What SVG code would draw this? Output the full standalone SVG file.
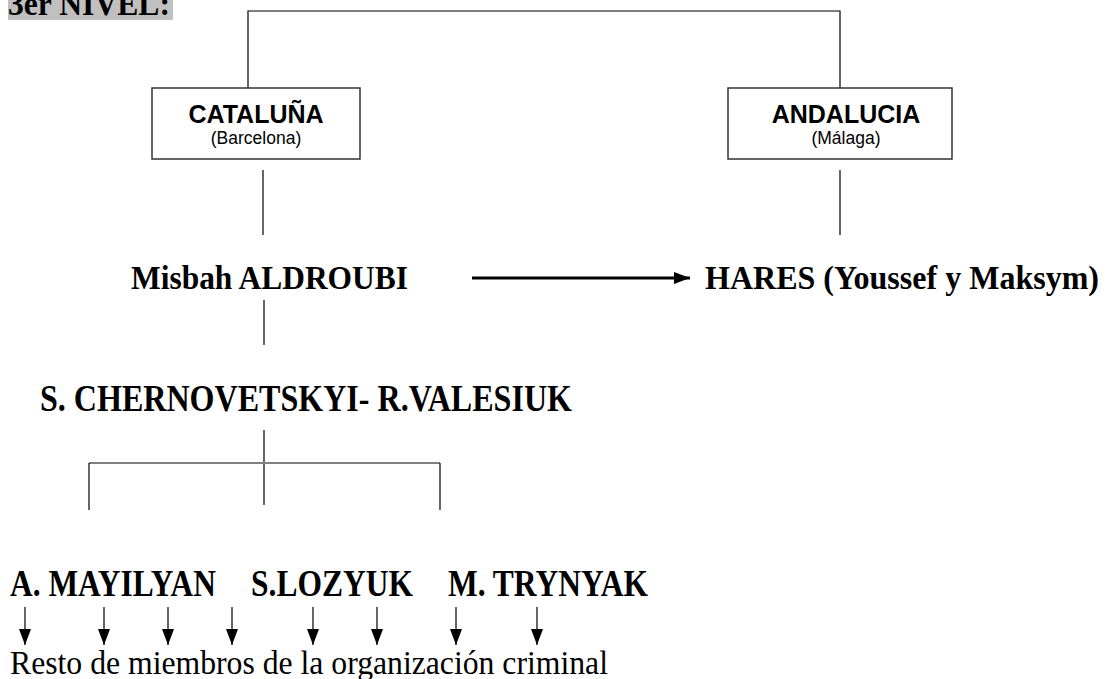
<svg xmlns="http://www.w3.org/2000/svg" width="1108" height="679" viewBox="0 0 1108 679">
<style>
.bg{fill:#ffffff}
.box{fill:#ffffff;stroke:#333333;stroke-width:1.5}
.ln{stroke:#000000;stroke-width:1.2;fill:none}
.gl{stroke:#808080;stroke-width:2;fill:none}
.sans{font-family:"Liberation Sans",Arial,sans-serif;fill:#000}
.serif{font-family:"Liberation Serif","Times New Roman",serif;fill:#000}
.big{font-size:34px;font-weight:bold}
.big2{font-size:37px;font-weight:bold}
.reg{font-size:34px}
</style>
<defs>
<marker id="ah" markerWidth="12" markerHeight="16" refX="6" refY="16" orient="0" markerUnits="userSpaceOnUse">
<path d="M0,0 L12,0 L6,16 Z" fill="#000"/>
</marker>
<marker id="ahr" markerWidth="16" markerHeight="12" refX="16" refY="6" orient="0" markerUnits="userSpaceOnUse">
<path d="M0,0 L16,6 L0,12 Z" fill="#000"/>
</marker>
</defs>
<rect class="bg" x="0" y="0" width="1108" height="679"/>
<g id="title">
<rect x="8" y="0" width="165" height="20" fill="#c0c0c0"/>
<text class="serif" x="8" y="15" font-size="34" font-weight="bold" textLength="162" lengthAdjust="spacingAndGlyphs">3er NIVEL:</text>
</g>
<g id="connectors">
<path class="ln" d="M248,88 V11 H840 V88"/>
<path class="ln" d="M263,170 V235"/>
<path class="ln" d="M840,170 V235"/>
<line x1="472" y1="278" x2="690" y2="278" stroke="#000" stroke-width="3" marker-end="url(#ahr)"/>
<path class="ln" d="M264,300 V345"/>
<path class="ln" d="M264,430 V505"/>
<path class="gl" d="M89,463 H440"/>
<path class="ln" d="M89,463 V510"/>
<path class="ln" d="M440,463 V510"/>
<g marker-end="url(#ah)">
<line class="ln" x1="25" y1="607" x2="25" y2="645"/>
<line class="ln" x1="104" y1="607" x2="104" y2="645"/>
<line class="ln" x1="168" y1="607" x2="168" y2="645"/>
<line class="ln" x1="232" y1="607" x2="232" y2="645"/>
<line class="ln" x1="313" y1="607" x2="313" y2="645"/>
<line class="ln" x1="377" y1="607" x2="377" y2="645"/>
<line class="ln" x1="456" y1="607" x2="456" y2="645"/>
<line class="ln" x1="537" y1="607" x2="537" y2="645"/>
</g>
</g>
<g id="cataluna">
<rect class="box" x="152" y="88" width="208" height="71"/>
<text class="sans" x="256" y="123" font-size="25" font-weight="bold" text-anchor="middle">CATALUÑA</text>
<text class="sans" x="256" y="144" font-size="17.5" text-anchor="middle">(Barcelona)</text>
</g>
<g id="andalucia">
<rect class="box" x="728" y="88" width="224" height="71"/>
<text class="sans" x="846" y="123" font-size="25" font-weight="bold" text-anchor="middle">ANDALUCIA</text>
<text class="sans" x="846" y="144" font-size="17.5" text-anchor="middle">(Málaga)</text>
</g>
<g id="aldroubi">
<text class="serif big" x="131" y="289" textLength="277" lengthAdjust="spacingAndGlyphs">Misbah ALDROUBI</text>
</g>
<g id="hares">
<text class="serif big" x="705" y="289" textLength="394" lengthAdjust="spacingAndGlyphs">HARES (Youssef y Maksym)</text>
</g>
<g id="chernovetskyi">
<text class="serif big2" x="40" y="411" textLength="532" lengthAdjust="spacingAndGlyphs">S. CHERNOVETSKYI- R.VALESIUK</text>
</g>
<g id="mayilyan">
<text class="serif big2" x="10" y="596" textLength="206" lengthAdjust="spacingAndGlyphs">A. MAYILYAN</text>
</g>
<g id="lozyuk">
<text class="serif big2" x="251" y="596" textLength="162" lengthAdjust="spacingAndGlyphs">S.LOZYUK</text>
</g>
<g id="trynyak">
<text class="serif big2" x="448" y="596" textLength="200" lengthAdjust="spacingAndGlyphs">M. TRYNYAK</text>
</g>
<g id="resto">
<text class="serif reg" x="10" y="674" textLength="598" lengthAdjust="spacingAndGlyphs">Resto de miembros de la organización criminal</text>
</g>
</svg>
